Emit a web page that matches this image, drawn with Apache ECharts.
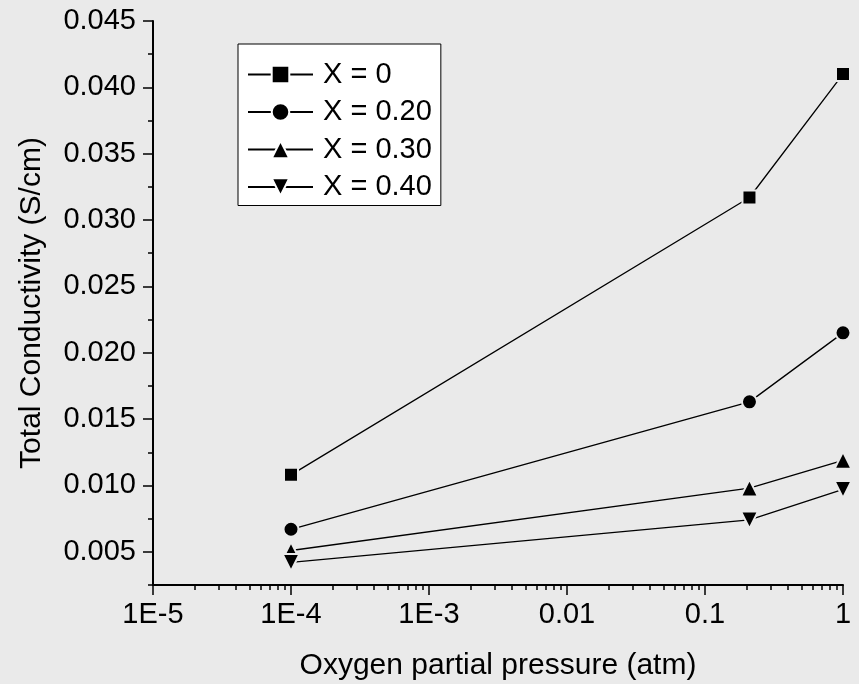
<!DOCTYPE html>
<html>
<head>
<meta charset="utf-8">
<script src="https://cdn.jsdelivr.net/npm/echarts@6/dist/echarts.min.js"></script>
<style>
  html, body { margin: 0; padding: 0; background: #eaeaea; }
  #chart { width: 859px; height: 684px; }
</style>
</head>
<body>
<div id="chart"></div>
<script>
// oxygen partial pressure (atm)
var pressure = [1e-4, 0.21, 1];
// total conductivity (S/cm) per composition
var x0 = [0.0108, 0.0317, 0.0410];
var x20 = [0.0067, 0.0163, 0.0215];
var x30 = [0.0051, 0.0098, 0.0119];
var x40 = [0.0042, 0.0074, 0.0097];
var seriesNames = ["X = 0", "X = 0.20", "X = 0.30", "X = 0.40"];

var yMajor = [0.005, 0.010, 0.015, 0.020, 0.025, 0.030, 0.035, 0.040, 0.045];
var yMinor = [0.0025, 0.0075, 0.0125, 0.0175, 0.0225, 0.0275, 0.0325, 0.0375, 0.0425];

var bg = "#eaeaea";
var font = "Liberation Sans, Arial, sans-serif";

// minor ticks for the log axis, in log10 space
var xMinor = [];
for (var e = -5; e < 0; e++) {
  for (var m = 2; m <= 9; m++) {
    xMinor.push(e + Math.log10(m));
  }
}

function pairs(ys) {
  return pressure.map(function(p, i) {
    return [p, ys[i]];
  });
}

function lineSeries(name, ys, symbol, size, rotate) {
  return {
    name: name,
    type: "line",
    xAxisIndex: 0,
    yAxisIndex: 0,
    data: pairs(ys),
    symbol: symbol,
    symbolSize: size,
    symbolRotate: rotate || 0,
    showAllSymbol: true,
    lineStyle: { color: "#000", width: 1.3 },
    itemStyle: { color: "#000", borderColor: bg, borderWidth: 2 },
    emphasis: { disabled: true },
    animation: false
  };
}

var chart = echarts.init(document.getElementById("chart"));

var option = {
  backgroundColor: bg,
  textStyle: { fontFamily: font, color: "#000" },
  grid: { left: 153, right: 16, top: 21, bottom: 99, outerBoundsMode: "none", containLabel: false },
  legend: {
    orient: "vertical",
    left: 238,
    top: 44,
    padding: [16, 9, 4, 9],
    backgroundColor: "#fff",
    borderColor: "#000",
    borderWidth: 1,
    itemWidth: 65,
    itemHeight: 22,
    itemGap: 8.5,
    itemStyle: { borderColor: "#fff", borderWidth: 2 },
    textStyle: { fontSize: 29, color: "#000", fontFamily: font, padding: [0, 0, 0, 5] },
    data: seriesNames
  },
  xAxis: [
    {
      type: "log",
      logBase: 10,
      min: 1e-5,
      max: 1,
      name: "Oxygen partial pressure (atm)",
      nameLocation: "middle",
      nameGap: 66,
      nameTextStyle: { fontSize: 30, color: "#000", fontFamily: font },
      axisLine: { onZero: false, lineStyle: { color: "#000", width: 2 } },
      axisTick: { length: 10, lineStyle: { color: "#000", width: 1.5 } },
      axisLabel: {
        fontSize: 29,
        color: "#000",
        margin: 15,
        formatter: function(v) {
          var e = Math.round(Math.log10(v));
          if (e >= -2) return String(Number(Math.pow(10, e).toFixed(2)));
          return "1E" + e;
        }
      },
      splitLine: { show: false }
    },
    {
      type: "value",
      min: -5,
      max: 0,
      position: "bottom",
      axisLine: { show: false, onZero: false },
      axisLabel: { show: false },
      splitLine: { show: false },
      axisTick: {
        length: 5,
        customValues: xMinor,
        lineStyle: { color: "#000", width: 1.5 }
      }
    }
  ],
  yAxis: [
    {
      type: "value",
      min: 0.0025,
      max: 0.045,
      position: "left",
      name: "Total Conductivity (S/cm)",
      nameLocation: "middle",
      nameGap: 106,
      nameTextStyle: { fontSize: 30, color: "#000", fontFamily: font },
      axisLine: { show: true, onZero: false, lineStyle: { color: "#000", width: 2 } },
      axisTick: {
        show: true,
        length: 10,
        customValues: yMajor,
        lineStyle: { color: "#000", width: 1.5 }
      },
      axisLabel: {
        fontSize: 29,
        color: "#000",
        margin: 17,
        customValues: yMajor,
        formatter: function(v) {
          return v.toFixed(3);
        }
      },
      splitLine: { show: false }
    },
    {
      type: "value",
      min: 0.0025,
      max: 0.045,
      position: "left",
      axisLine: { show: false, onZero: false },
      axisLabel: { show: false },
      splitLine: { show: false },
      axisTick: {
        show: true,
        length: 5,
        customValues: yMinor,
        lineStyle: { color: "#000", width: 1.5 }
      }
    }
  ],
  series: [
    lineSeries(seriesNames[0], x0, "rect", 14),
    lineSeries(seriesNames[1], x20, "circle", 15),
    lineSeries(seriesNames[2], x30, "triangle", 17),
    lineSeries(seriesNames[3], x40, "triangle", 17, 180)
  ]
};

chart.setOption(option);
</script>
</body>
</html>
